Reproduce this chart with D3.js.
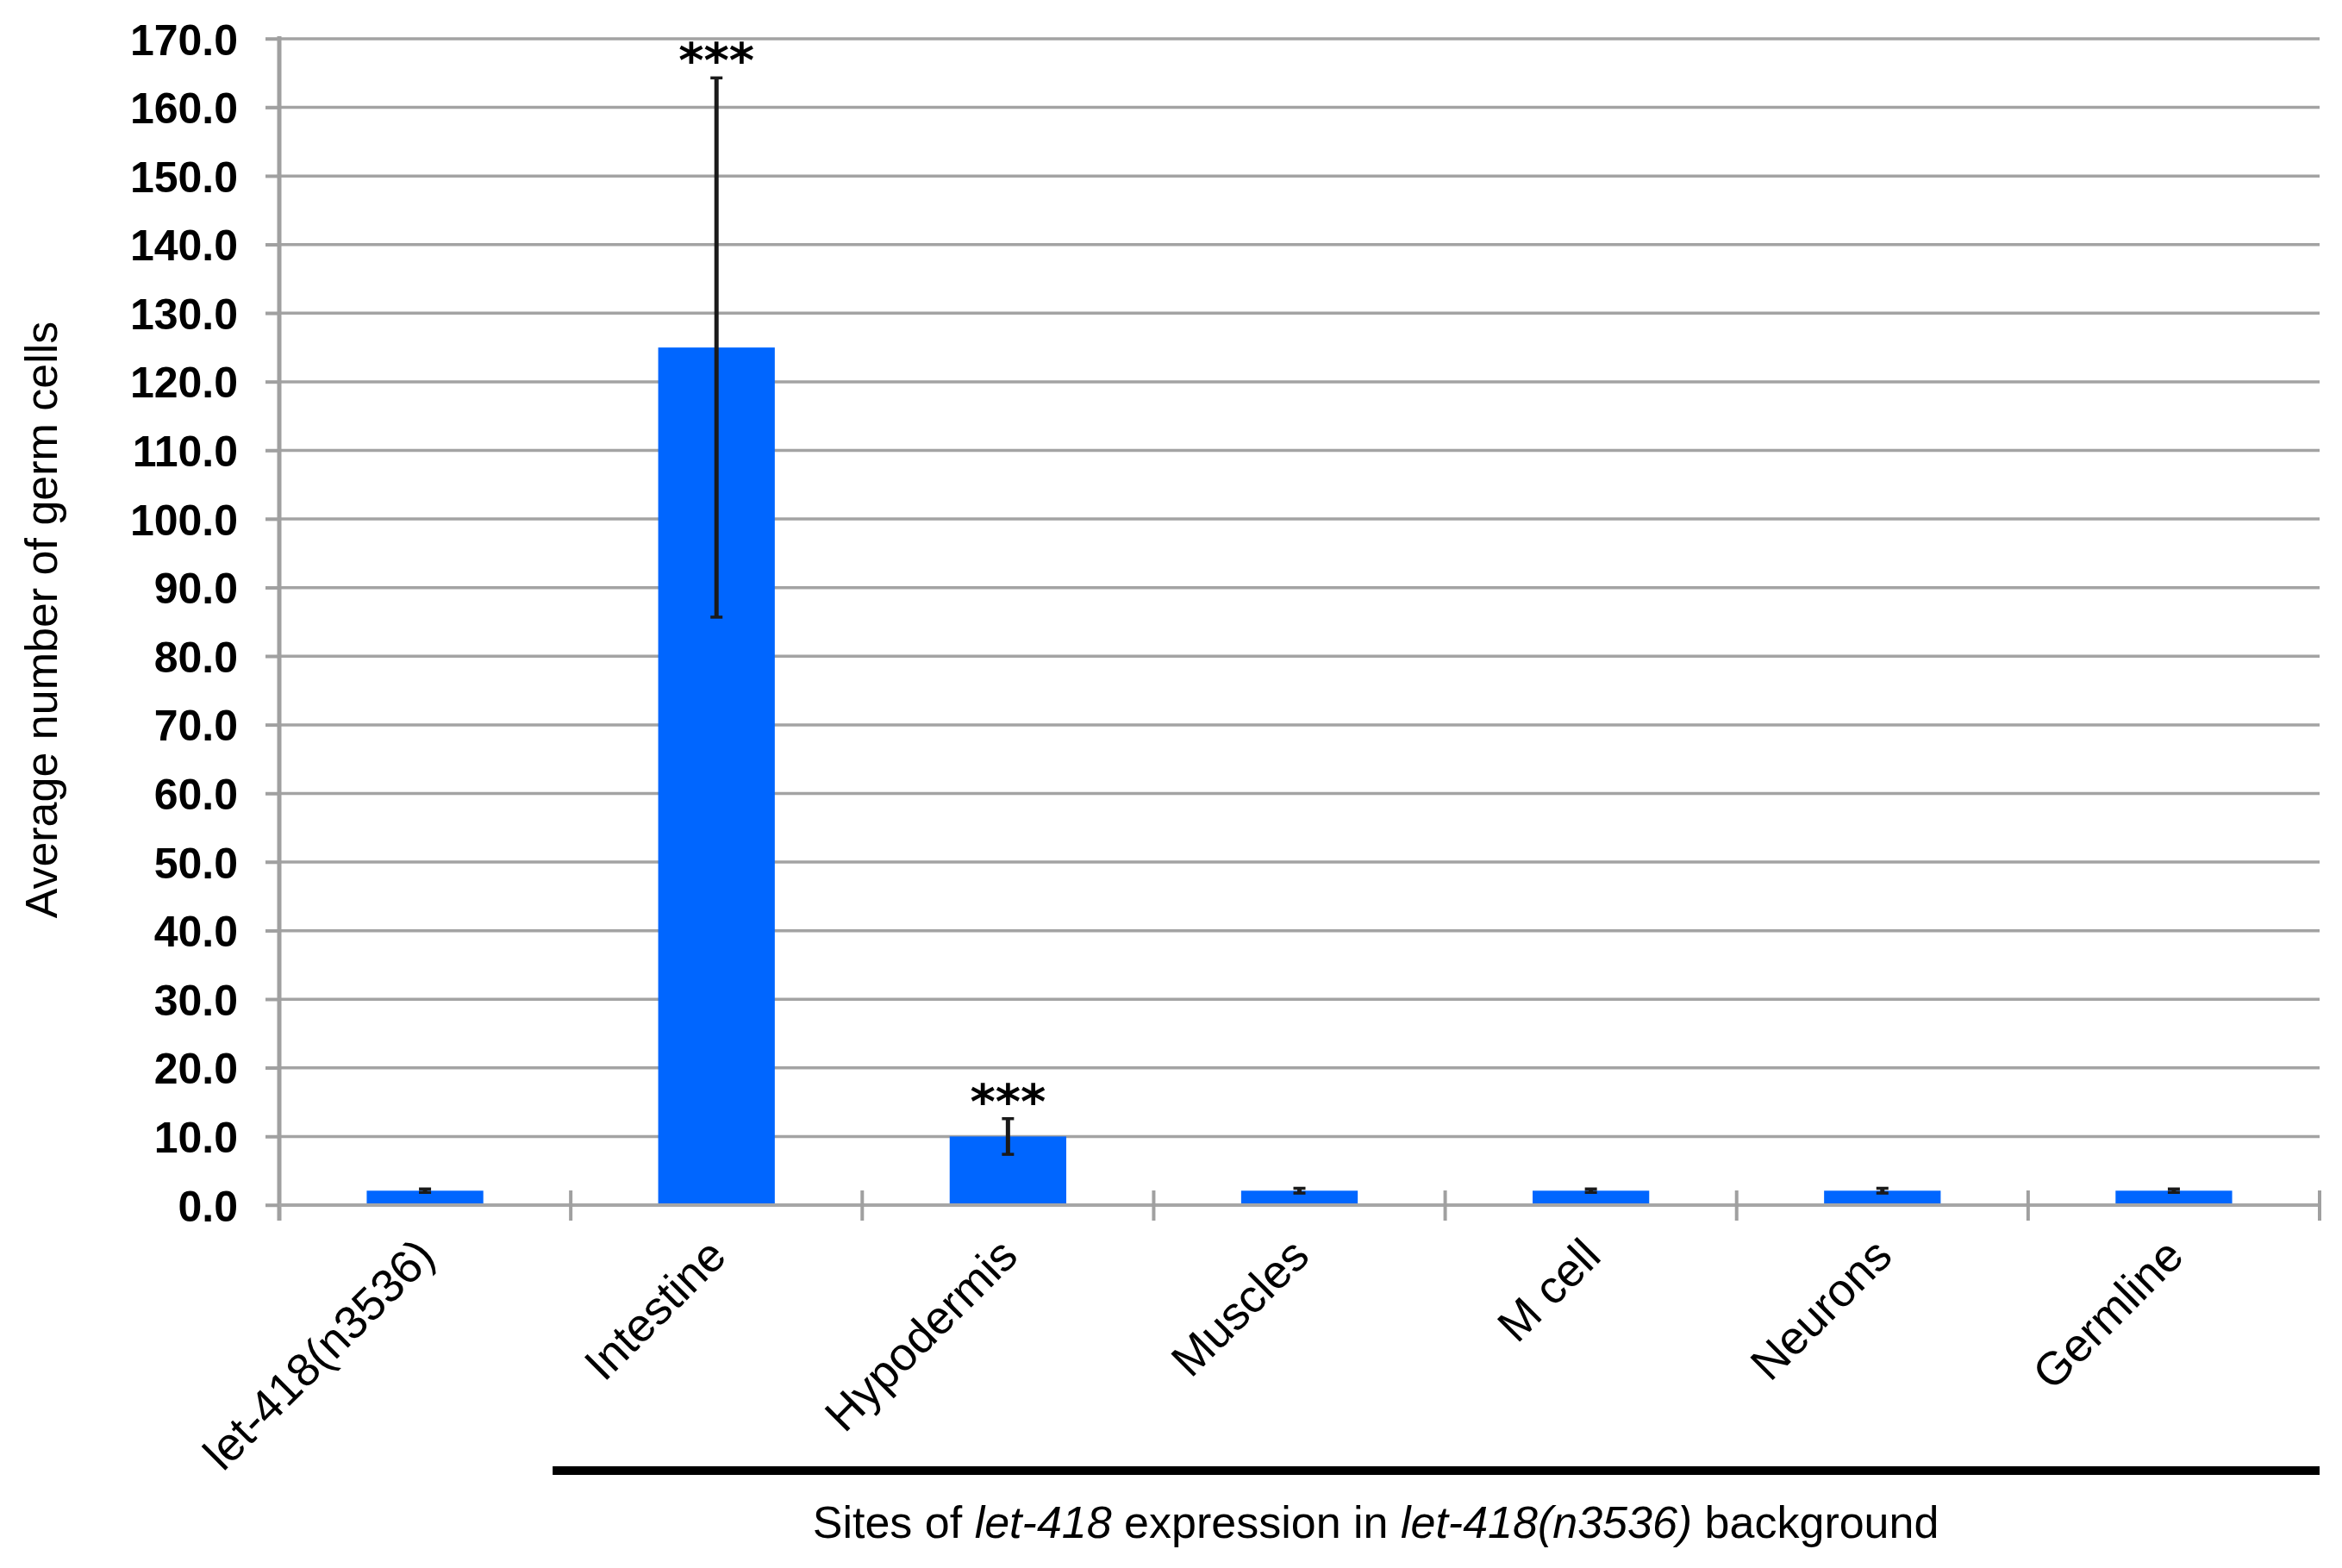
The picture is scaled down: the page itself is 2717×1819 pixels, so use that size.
<!DOCTYPE html>
<html>
<head>
<meta charset="utf-8">
<script src="https://cdn.jsdelivr.net/npm/d3@7"></script>
<style>
  html, body { margin: 0; padding: 0; background: #fff; }
  svg { display: block; }
</style>
</head>
<body>
<script>
const categories = ["let-418(n3536)", "Intestine", "Hypodermis", "Muscles", "M cell", "Neurons", "Germline"];
const values = [2.1, 125.0, 10.0, 2.1, 2.1, 2.1, 2.1];
const errors = [0.25, 39.3, 2.6, 0.35, 0.25, 0.35, 0.25];
const significance = ["", "***", "***", "", "", "", ""];
const yTicks = [0, 10, 20, 30, 40, 50, 60, 70, 80, 90, 100, 110, 120, 130, 140, 150, 160, 170];
const yTitle = "Average number of germ cells";

(function () {
const W = 2717, H = 1819;
const mLeft = 324, mRight = 2691, mTop = 45, mBottom = 1398;

const svg = d3.select("body").append("svg").attr("width", W).attr("height", H);
svg.append("rect").attr("width", W).attr("height", H).attr("fill", "#fff");

const x = d3.scaleBand().domain(categories).range([mLeft, mRight]).paddingInner(0.6).paddingOuter(0.3);
const y = d3.scaleLinear().domain([0, 170]).range([mBottom, mTop]);

// gridlines
svg.append("g").selectAll("line").data(yTicks).join("line")
  .attr("x1", mLeft - 16).attr("x2", mRight)
  .attr("y1", d => y(d)).attr("y2", d => y(d))
  .attr("stroke", "#a3a3a3").attr("stroke-width", 3.5);

// y axis
const yAxis = svg.append("g").attr("transform", `translate(${mLeft},0)`)
  .call(d3.axisLeft(y).tickValues(yTicks).tickFormat(d3.format(".1f")).tickSize(16).tickPadding(32));
yAxis.select(".domain").remove();
yAxis.selectAll(".tick line").attr("stroke", "#a0a0a0").attr("stroke-width", 3.5);
yAxis.selectAll(".tick text")
  .attr("font-family", "Liberation Sans, Arial, sans-serif")
  .attr("font-weight", "bold").attr("font-size", 50).attr("fill", "#000")
  .attr("dy", "0.36em");
svg.append("line").attr("x1", mLeft).attr("x2", mLeft).attr("y1", mTop - 3).attr("y2", mBottom + 18)
  .attr("stroke", "#a0a0a0").attr("stroke-width", 5);

// x axis baseline + boundary ticks
svg.append("line").attr("x1", mLeft).attr("x2", mRight).attr("y1", mBottom).attr("y2", mBottom)
  .attr("stroke", "#a6a6a6").attr("stroke-width", 4);
const boundaries = d3.range(categories.length + 1).map(i => x.range()[0] + i * x.step());
svg.append("g").selectAll("line").data(boundaries.slice(1)).join("line")
  .attr("x1", d => d).attr("x2", d => d).attr("y1", mBottom - 17).attr("y2", mBottom + 18)
  .attr("stroke", "#a0a0a0").attr("stroke-width", 4);

// bars
svg.append("g").selectAll("rect").data(categories).join("rect")
  .attr("x", d => x(d)).attr("width", x.bandwidth())
  .attr("y", (d, i) => y(values[i])).attr("height", (d, i) => y(0) - y(values[i]) - 2)
  .attr("fill", "#0066ff");

// error bars
const eb = svg.append("g").selectAll("g").data(categories).join("g");
eb.append("line")
  .attr("x1", d => x(d) + x.bandwidth() / 2).attr("x2", d => x(d) + x.bandwidth() / 2)
  .attr("y1", (d, i) => y(values[i] + errors[i])).attr("y2", (d, i) => y(values[i] - errors[i]))
  .attr("stroke", "#1a1a1a").attr("stroke-width", 5);
eb.selectAll("line.cap").data((d, i) => [[d, values[i] + errors[i]], [d, values[i] - errors[i]]]).join("line")
  .attr("class", "cap")
  .attr("x1", d => x(d[0]) + x.bandwidth() / 2 - 7).attr("x2", d => x(d[0]) + x.bandwidth() / 2 + 7)
  .attr("y1", d => y(d[1])).attr("y2", d => y(d[1]))
  .attr("stroke", "#1a1a1a").attr("stroke-width", 3.5);

// significance stars
svg.append("g").selectAll("text").data(categories).join("text")
  .attr("x", d => x(d) + x.bandwidth() / 2)
  .attr("y", (d, i) => y(values[i] + errors[i]) - 1)
  .attr("text-anchor", "middle")
  .attr("font-family", "DejaVu Sans, Verdana, sans-serif")
  .attr("font-weight", "bold").attr("font-size", 56)
  .text((d, i) => significance[i]);

// x labels
svg.append("g").selectAll("text").data(categories).join("text")
  .attr("transform", d => `translate(${x(d) + x.bandwidth() / 2 + 14},${mBottom + 62}) rotate(-45)`)
  .attr("text-anchor", "end")
  .attr("font-family", "Liberation Sans, Arial, sans-serif")
  .attr("font-size", 54).attr("fill", "#000")
  .text(d => d);

// y title
svg.append("text")
  .attr("transform", `translate(66,719) rotate(-90)`)
  .attr("text-anchor", "middle")
  .attr("font-family", "Liberation Sans, Arial, sans-serif")
  .attr("font-size", 52).attr("fill", "#000")
  .text(yTitle);

// bracket line
svg.append("line").attr("x1", boundaries[1] - 21).attr("x2", mRight).attr("y1", 1706).attr("y2", 1706)
  .attr("stroke", "#000").attr("stroke-width", 10);

// bottom caption
const cap = svg.append("text")
  .attr("x", (boundaries[1] - 21 + mRight) / 2 - 70).attr("y", 1784)
  .attr("text-anchor", "middle")
  .attr("font-family", "Liberation Sans, Arial, sans-serif")
  .attr("font-size", 52).attr("fill", "#000");
cap.append("tspan").text("Sites of ");
cap.append("tspan").attr("font-style", "italic").text("let-418");
cap.append("tspan").text(" expression in ");
cap.append("tspan").attr("font-style", "italic").text("let-418(n3536)");
cap.append("tspan").text(" background");
})();
</script>
</body>
</html>
